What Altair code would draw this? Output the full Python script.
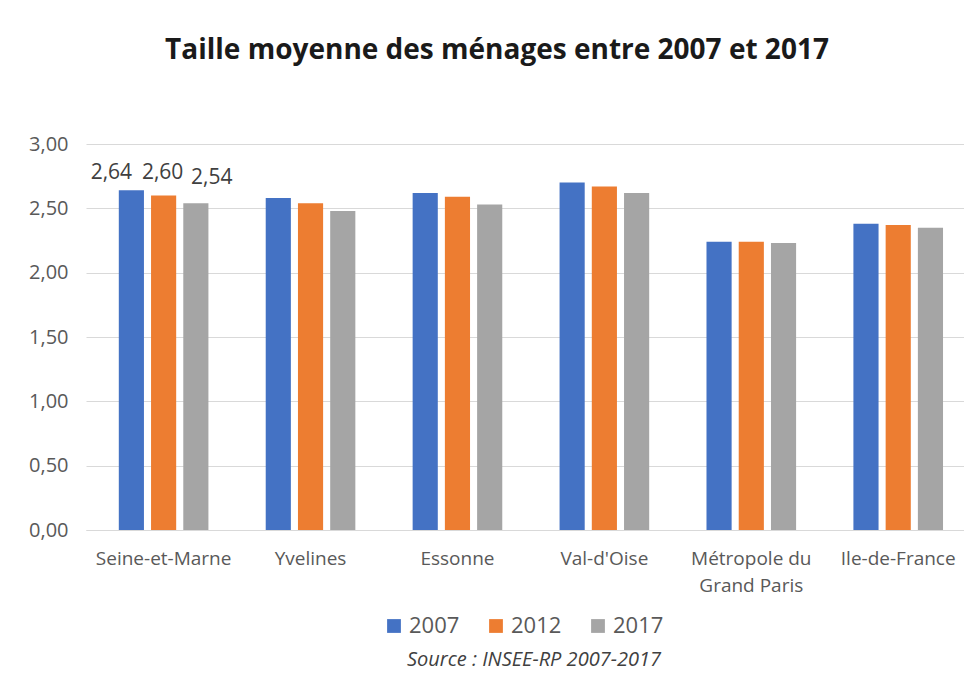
import altair as alt
import pandas as pd

categories = ["Seine-et-Marne", "Yvelines", "Essonne", "Val-d'Oise", "Métropole du Grand Paris", "Ile-de-France"]
years = ["2007", "2012", "2017"]
v2007 = [2.64, 2.58, 2.62, 2.70, 2.24, 2.38]
v2012 = [2.60, 2.54, 2.59, 2.67, 2.24, 2.37]
v2017 = [2.54, 2.48, 2.53, 2.62, 2.23, 2.35]
colors = ["#4472C4", "#ED7D31", "#A5A5A5"]

rows = []
for i, c in enumerate(categories):
    for y, vals in zip(years, [v2007, v2012, v2017]):
        rows.append({"cat": c, "year": y, "value": vals[i],
                     "label": f"{vals[i]:.2f}".replace(".", ",") if i == 0 else ""})
df = pd.DataFrame(rows)

W, H = 878, 386
FONT = "Open Sans"

xscale = alt.Scale(paddingInner=0.39, paddingOuter=0.183, align=0.61)
xenc = alt.X("cat:N", sort=categories, title=None, scale=xscale,
             axis=alt.Axis(labelAngle=0, labelFontSize=19, labelColor="#595959",
                           labelFont=FONT, ticks=False, domainColor="#D9D9D9",
                           labelPadding=19, labelLineHeight=27,
                           labelExpr="datum.value == 'Métropole du Grand Paris' ? ['Métropole du', 'Grand Paris'] : datum.value"))
xoff = alt.XOffset("year:N", sort=years, scale=alt.Scale(paddingInner=0.22))

base = alt.Chart(df)
bars = base.mark_bar().encode(
    x=xenc, xOffset=xoff,
    y=alt.Y("value:Q", title=None,
            scale=alt.Scale(domain=[0, 3]),
            axis=alt.Axis(values=[0, 0.5, 1, 1.5, 2, 2.5, 3],
                          labelExpr="replace(format(datum.value, '.2f'), '.', ',')",
                          labelFontSize=20, labelColor="#595959", labelFont=FONT,
                          ticks=False, domain=False, gridColor="#D9D9D9",
                          labelPadding=18)),
    color=alt.Color("year:N", sort=years,
                    scale=alt.Scale(domain=years, range=colors),
                    legend=alt.Legend(title=None, orient="none", direction="horizontal",
                                      legendX=297, legendY=H + 85,
                                      symbolType="square", symbolSize=190,
                                      labelFontSize=22, labelColor="#595959",
                                      labelFont=FONT, columnPadding=25, symbolStrokeWidth=0)),
)

label_shift = {"2007": (-20, -17), "2012": (-1, -22), "2017": (16, -25)}
text_layers = []
for yr in years:
    dx, dy = label_shift[yr]
    text_layers.append(
        base.transform_filter(alt.datum.year == yr).mark_text(
            dx=dx, dy=dy, fontSize=21, color="#404040", font=FONT
        ).encode(x=alt.X("cat:N", sort=categories, scale=xscale),
                 xOffset=xoff, y="value:Q", text="label:N"))

src = alt.Chart(pd.DataFrame({"t": ["Source : INSEE-RP 2007-2017"]})).mark_text(
    fontSize=20, fontStyle="italic", color="#404040", font=FONT
).encode(x=alt.value(448), y=alt.value(H + 130), text="t:N")

chart = alt.layer(bars, *text_layers, src).properties(
    width=W, height=H,
    padding={"left": 20, "top": 29, "right": 0, "bottom": 5},
    title=alt.TitleParams("Taille moyenne des ménages entre 2007 et 2017",
                          fontSize=28, font=FONT, fontWeight="bold", color="#1a1a1a",
                          offset=69, dx=-28),
).configure_view(stroke=None)

chart.save("out.html", embed_options={"renderer": "svg", "actions": False})
